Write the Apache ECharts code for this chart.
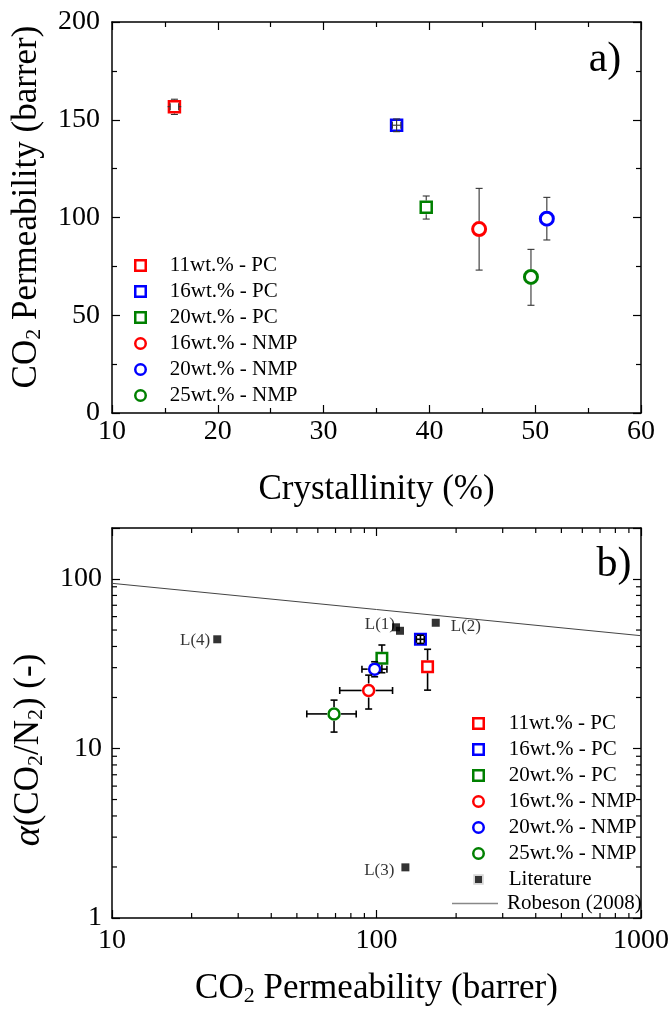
<!DOCTYPE html>
<html>
<head>
<meta charset="utf-8">
<script src="https://cdn.jsdelivr.net/npm/echarts@6/dist/echarts.min.js"></script>
<style>
  html, body { margin: 0; padding: 0; background: #fff; }
  #chart { width: 671px; height: 1013px; }
</style>
</head>
<body>
<div id="chart"></div>
<script>
const SERIF = 'Liberation Serif';

// samples shared by both panels
const samples = ['11wt.% - PC', '16wt.% - PC', '20wt.% - PC', '16wt.% - NMP', '20wt.% - NMP', '25wt.% - NMP'];
const sampleColors = ['#ff0000', '#0000ff', '#008000', '#ff0000', '#0000ff', '#008000'];
const sampleSymbols = ['rect', 'rect', 'rect', 'circle', 'circle', 'circle'];

// panel a) : CO2 permeability vs crystallinity
const crystallinity = [15.9, 36.9, 39.7, 44.7, 51.1, 49.6];
const crystLo = [15.5, 36.5, 39.7, 44.7, 51.1, 49.6];
const crystHi = [16.3, 37.3, 39.7, 44.7, 51.1, 49.6];
const permA = [156.7, 147.2, 105.2, 94.1, 99.4, 69.6];
const permALo = [152.7, 143.9, 99.2, 73.1, 88.5, 55.1];
const permAHi = [160.5, 150.4, 111.0, 114.9, 110.3, 83.7];

// panel b) : selectivity vs CO2 permeability (log-log)
const permB = [156, 146.6, 104.8, 93.4, 98.4, 69.1];
const permBLo = [156, 141.5, 104.8, 72.6, 88.1, 54.5];
const permBHi = [156, 151.5, 104.8, 115, 109.5, 83.8];
const alphaB = [30.4, 44.1, 34.1, 22.0, 29.4, 16.0];
const alphaLo = [22.1, 41.7, 28.0, 17.1, 26.5, 12.5];
const alphaHi = [38.5, 46.6, 40.8, 27.1, 32.5, 19.3];

const litPerm = [118.5, 122.7, 167.5, 128.6, 25.0];
const litAlpha = [51.9, 49.5, 55.2, 1.99, 44.1];
const litLabels = ['L(1)', '', 'L(2)', 'L(3)', 'L(4)'];

const robesonPerm = [10, 1000];
const robesonAlpha = [94.3, 46.3];

// axis ticks
const xTicksA = { min: 10, max: 60, interval: 10 };
const yTicksA = { min: 0, max: 200, interval: 50 };
const logMinorX = [20, 30, 40, 50, 60, 70, 80, 90, 200, 300, 400, 500, 600, 700, 800, 900];
const logMinorY = [2, 3, 4, 5, 6, 7, 8, 9, 20, 30, 40, 50, 60, 70, 80, 90];

const chart = echarts.init(document.getElementById('chart'), null, { renderer: 'canvas' });

const axisLine = { show: true, onZero: false, lineStyle: { color: '#000', width: 1.5 } };
const tickIn = { show: true, inside: true, length: 8, lineStyle: { color: '#000', width: 1.2 } };
const minorIn = { show: true, splitNumber: 2, length: 5, lineStyle: { color: '#000', width: 1.2 } };
const tickLabel = { fontFamily: SERIF, fontSize: 28, color: '#000' };
const nameStyle = (extra) => Object.assign({
  fontFamily: SERIF, fontSize: 35, color: '#000',
  rich: {
    s: { fontFamily: SERIF, fontSize: 22, color: '#000', padding: [14, 0, 0, 0] },
    a: { fontFamily: SERIF, fontSize: 38, color: '#000', fontStyle: 'italic' }
  }
}, extra);
const legendText = (padLeft) => ({ fontFamily: SERIF, fontSize: 21, color: '#000', lineHeight: 20, padding: [0, 0, 0, padLeft] });

function isDecade(v) {
  const l = Math.log10(v);
  return Math.abs(l - Math.round(l)) < 1e-6;
}

function errorBarRender(halfSizes, capHalf, color, width) {
  return function (params, api) {
    const x = api.value(0), y = api.value(1);
    const c = api.coord([x, y]);
    const xl = api.coord([api.value(2), y])[0];
    const xh = api.coord([api.value(3), y])[0];
    const yl = api.coord([x, api.value(4)])[1];
    const yh = api.coord([x, api.value(5)])[1];
    const r = halfSizes[params.dataIndex];
    const style = { stroke: color, lineWidth: width, fill: null };
    const kids = [];
    const seg = (x1, y1, x2, y2) => kids.push({ type: 'line', shape: { x1, y1, x2, y2 }, style });
    const inside = Math.max(c[1] - yh, yl - c[1], c[0] - xl, xh - c[0]) <= r;
    if (c[1] - yh > 0.5) { seg(c[0], yh, c[0], inside ? c[1] : c[1] - r); seg(c[0] - capHalf, yh, c[0] + capHalf, yh); }
    if (yl - c[1] > 0.5) { seg(c[0], yl, c[0], inside ? c[1] : c[1] + r); seg(c[0] - capHalf, yl, c[0] + capHalf, yl); }
    if (c[0] - xl > 0.5) { seg(xl, c[1], inside ? c[0] : c[0] - r, c[1]); seg(xl, c[1] - capHalf, xl, c[1] + capHalf); }
    if (xh - c[0] > 0.5) { seg(xh, c[1], inside ? c[0] : c[0] + r, c[1]); seg(xh, c[1] - capHalf, xh, c[1] + capHalf); }
    return { type: 'group', children: kids };
  };
}

function minorTickRender(params, api) {
  const cs = params.coordSys;
  const style = { stroke: '#000', lineWidth: 1.2 };
  if (api.value(2) === 0) {
    const px = api.coord([api.value(0), 10])[0];
    return { type: 'group', children: [
      { type: 'line', shape: { x1: px, y1: cs.y + cs.height, x2: px, y2: cs.y + cs.height - 5 }, style },
      { type: 'line', shape: { x1: px, y1: cs.y, x2: px, y2: cs.y + 5 }, style }
    ] };
  }
  const py = api.coord([100, api.value(1)])[1];
  return { type: 'group', children: [
    { type: 'line', shape: { x1: cs.x, y1: py, x2: cs.x + 5, y2: py }, style },
    { type: 'line', shape: { x1: cs.x + cs.width, y1: py, x2: cs.x + cs.width - 5, y2: py }, style }
  ] };
}

const series = [];

// panel a markers
samples.forEach((name, i) => {
  series.push({
    name, type: 'scatter', xAxisIndex: 0, yAxisIndex: 0,
    symbol: sampleSymbols[i], symbolSize: sampleSymbols[i] === 'rect' ? 11 : 13,
    itemStyle: { color: '#fff', borderColor: sampleColors[i], borderWidth: sampleSymbols[i] === 'rect' ? 2.5 : 3, opacity: 1 },
    data: [[crystallinity[i], permA[i]]], z: 3
  });
});
series.push({
  type: 'custom', xAxisIndex: 0, yAxisIndex: 0, z: 4, silent: true,
  renderItem: errorBarRender(sampleSymbols.map(s => s === 'rect' ? 6.8 : 8), 3.5, '#333', 1.1),
  data: samples.map((_, i) => [crystallinity[i], permA[i], crystLo[i], crystHi[i], permALo[i], permAHi[i]]),
  encode: { x: 0, y: 1 }
});

// panel b markers
samples.forEach((name, i) => {
  series.push({
    name, type: 'scatter', xAxisIndex: 2, yAxisIndex: 2,
    symbol: sampleSymbols[i], symbolSize: sampleSymbols[i] === 'rect' ? 10.5 : 11,
    itemStyle: { color: '#fff', borderColor: sampleColors[i], borderWidth: 2.5, opacity: 1 },
    data: [[permB[i], alphaB[i]]], z: 3
  });
});
series.push({
  type: 'custom', xAxisIndex: 2, yAxisIndex: 2, z: 4, silent: true,
  renderItem: errorBarRender(sampleSymbols.map(s => s === 'rect' ? 6.5 : 7), 3.5, '#000', 1.6),
  data: samples.map((_, i) => [permB[i], alphaB[i], permBLo[i], permBHi[i], alphaLo[i], alphaHi[i]]),
  encode: { x: 0, y: 1 }
});

const labelSide = { 'L(1)': ['left', -3, [0, -3]], 'L(2)': ['right', 11, [0, 4]], 'L(3)': ['left', 7, [0, 3]], 'L(4)': ['left', 3, [0, 1]] };
series.push({
  name: 'Literature', type: 'scatter', xAxisIndex: 2, yAxisIndex: 2,
  symbol: 'rect', symbolSize: 8, itemStyle: { color: '#000' }, z: 3,
  data: litPerm.map((p, i) => {
    const lab = litLabels[i];
    const d = { value: [p, litAlpha[i]] };
    if (lab) {
      const s = labelSide[lab];
      d.label = { show: true, formatter: lab, position: s[0], distance: s[1], offset: s[2],
        fontFamily: SERIF, fontSize: 17, color: '#000' };
    }
    return d;
  })
});
series.push({
  name: 'Robeson (2008)', type: 'line', xAxisIndex: 2, yAxisIndex: 2,
  symbol: 'none', showSymbol: false, lineStyle: { color: '#444', width: 1 }, itemStyle: { color: '#666' },
  data: robesonPerm.map((p, i) => [p, robesonAlpha[i]]), z: 2, silent: true
});
series.push({
  type: 'custom', xAxisIndex: 2, yAxisIndex: 2, z: 5, silent: true,
  renderItem: minorTickRender, clip: false,
  data: logMinorX.map(v => [v, 10, 0]).concat(logMinorY.map(v => [100, v, 1])),
  encode: { x: 0, y: 1 }
});

const option = {
  animation: false,
  backgroundColor: '#fff',
  textStyle: { fontFamily: SERIF },
  grid: [
    { left: 112, top: 22, width: 529, height: 391, containLabel: false, outerBoundsMode: 'none' },
    { left: 112, top: 528, width: 529, height: 390, containLabel: false, outerBoundsMode: 'none' }
  ],
  xAxis: [
    { type: 'value', gridIndex: 0, position: 'bottom', min: xTicksA.min, max: xTicksA.max, interval: xTicksA.interval,
      axisLine, axisTick: tickIn, minorTick: minorIn, splitLine: { show: false },
      axisLabel: Object.assign({ margin: 5 }, tickLabel),
      name: 'Crystallinity (%)', nameLocation: 'middle', nameGap: 59, nameTextStyle: nameStyle({}) },
    { type: 'value', gridIndex: 0, position: 'top', min: xTicksA.min, max: xTicksA.max, interval: xTicksA.interval,
      axisLine, axisTick: tickIn, minorTick: minorIn, splitLine: { show: false }, axisLabel: { show: false } },
    { type: 'log', logBase: 10, gridIndex: 1, position: 'bottom', min: 10, max: 1000,
      axisLine, axisTick: tickIn, splitLine: { show: false },
      axisLabel: Object.assign({ margin: 9, formatter: v => isDecade(v) ? String(Math.round(v)) : '' }, tickLabel),
      name: 'CO{s|2} Permeability (barrer)', nameLocation: 'middle', nameGap: 53, nameTextStyle: nameStyle({}) },
    { type: 'log', logBase: 10, gridIndex: 1, position: 'top', min: 10, max: 1000,
      axisLine, axisTick: tickIn, splitLine: { show: false }, axisLabel: { show: false } }
  ],
  yAxis: [
    { type: 'value', gridIndex: 0, position: 'left', min: yTicksA.min, max: yTicksA.max, interval: yTicksA.interval,
      axisLine, axisTick: tickIn, minorTick: minorIn, splitLine: { show: false },
      axisLabel: Object.assign({ margin: 12 }, tickLabel),
      name: 'CO{s|2} Permeability (barrer)', nameLocation: 'middle', nameGap: 67,
      nameTextStyle: nameStyle({ padding: [0, 0, 0, 21] }) },
    { type: 'value', gridIndex: 0, position: 'right', min: yTicksA.min, max: yTicksA.max, interval: yTicksA.interval,
      axisLine, axisTick: tickIn, minorTick: minorIn, splitLine: { show: false }, axisLabel: { show: false } },
    { type: 'log', logBase: 10, gridIndex: 1, position: 'left', min: 1, max: 200,
      axisLine, axisTick: tickIn, splitLine: { show: false },
      axisLabel: Object.assign({ margin: 10, formatter: v => isDecade(v) ? String(Math.round(v)) : '' }, tickLabel),
      name: '{a|α}(CO{s|2}/N{s|2}) (-)', nameLocation: 'middle', nameGap: 64,
      nameTextStyle: nameStyle({ padding: [0, 54, 0, 0] }) },
    { type: 'log', logBase: 10, gridIndex: 1, position: 'right', min: 1, max: 200,
      axisLine, axisTick: tickIn, splitLine: { show: false }, axisLabel: { show: false } }
  ],
  legend: [
    { orient: 'vertical', left: 134, top: 255, padding: 0, itemWidth: 10.5, itemHeight: 10.5, itemGap: 5,
      selectedMode: false, data: samples, itemStyle: { borderWidth: 2.5 },
      textStyle: legendText(19) },
    { orient: 'vertical', left: 471.5, top: 713, padding: 0, itemWidth: 10.5, itemHeight: 10.5, itemGap: 5,
      selectedMode: false, itemStyle: { borderWidth: 2.5 },
      data: samples.concat([{ name: 'Literature', itemStyle: { color: '#000', borderColor: '#fff', borderWidth: 3.5 } }]),
      textStyle: legendText(20) },
    { orient: 'vertical', left: 452, top: 893, padding: 0, itemWidth: 46, itemHeight: 1.3, selectedMode: false,
      data: [{ name: 'Robeson (2008)', icon: 'rect', itemStyle: { color: '#888', borderWidth: 0 } }],
      textStyle: legendText(4) }
  ],
  graphic: [
    { type: 'text', x: 605, y: 60, style: { text: 'a)', fontFamily: SERIF, fontSize: 42, fill: '#000', align: 'center', verticalAlign: 'middle' } },
    { type: 'text', x: 614, y: 565, style: { text: 'b)', fontFamily: SERIF, fontSize: 42, fill: '#000', align: 'center', verticalAlign: 'middle' } }
  ],
  series
};

chart.setOption(option);
</script>
</body>
</html>
